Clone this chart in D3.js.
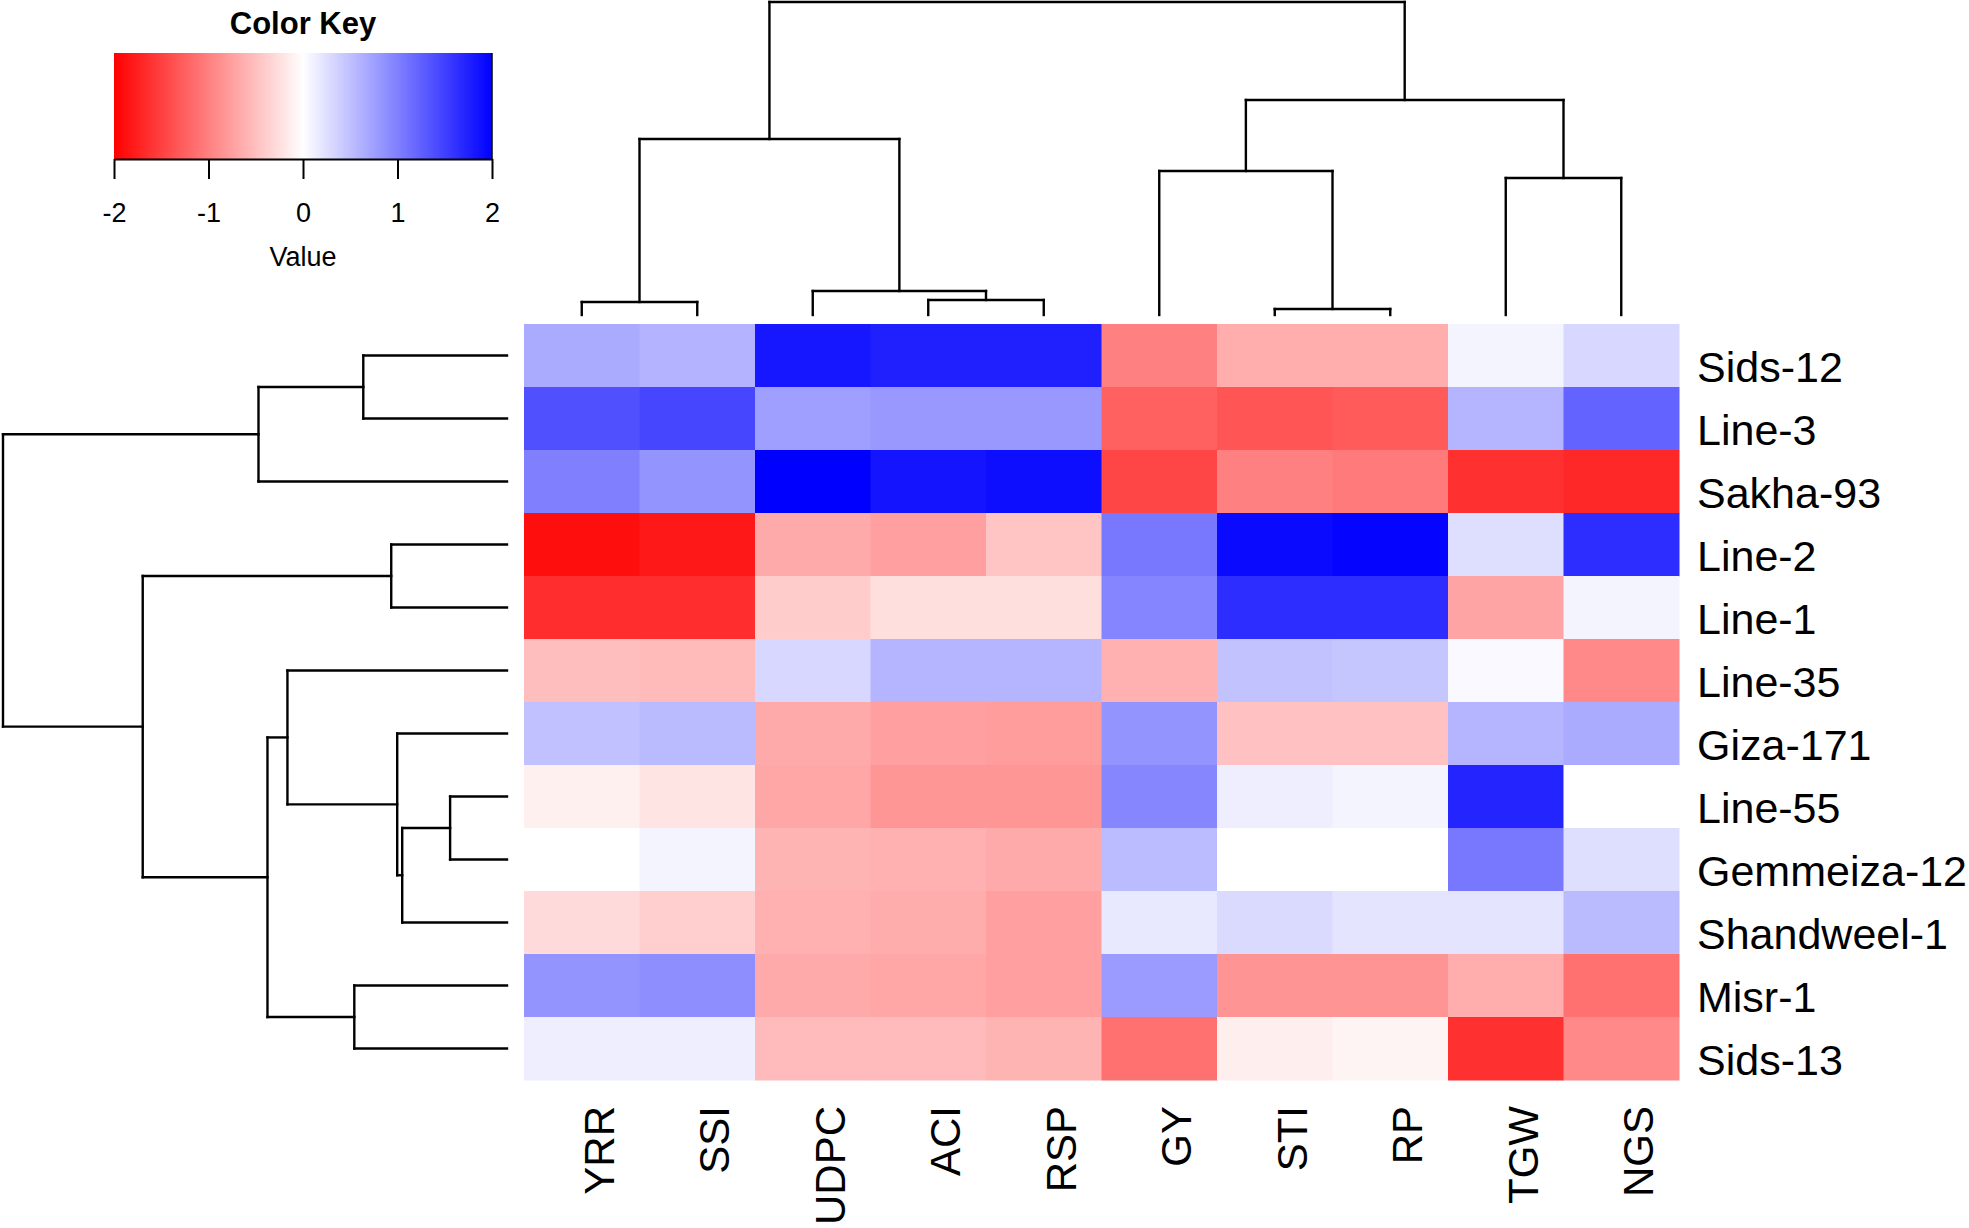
<!DOCTYPE html>
<html>
<head>
<meta charset="utf-8">
<script src="https://cdn.jsdelivr.net/npm/d3@7"></script>
<style>
  body { margin: 0; background: #fff; }
  svg { display: block; font-family: Arial, "Liberation Sans", sans-serif; }
</style>
</head>
<body>
<svg id="chart" width="1969" height="1228"></svg>
<script>
// traits (columns) and genotypes (rows), in dendrogram order
const traits = [ 'YRR', 'SSI', 'UDPC', 'ACI', 'RSP', 'GY', 'STI', 'RP', 'TGW', 'NGS' ];
const genotypes = [ 'Sids-12', 'Line-3', 'Sakha-93', 'Line-2', 'Line-1', 'Line-35',
    'Giza-171', 'Line-55', 'Gemmeiza-12', 'Shandweel-1', 'Misr-1', 'Sids-13' ];

// scaled values, one array per genotype, same order as traits
const sids12      = [ 0.67, 0.60, 1.83, 1.75, 1.75, -1.00, -0.64, -0.64, 0.09, 0.31 ];
const line3       = [ 1.37, 1.45, 0.75, 0.81, 0.81, -1.25, -1.33, -1.29, 0.59, 1.22 ];
const sakha93     = [ 1.00, 0.84, 2.00, 1.84, 1.89, -1.45, -1.00, -1.04, -1.62, -1.69 ];
const line2       = [ -1.89, -1.81, -0.67, -0.75, -0.46, 1.06, 1.92, 1.96, 0.26, 1.65 ];
const line1       = [ -1.65, -1.65, -0.40, -0.26, -0.26, 0.96, 1.65, 1.65, -0.71, 0.09 ];
const line35      = [ -0.51, -0.54, 0.31, 0.59, 0.59, -0.62, 0.48, 0.45, 0.05, -0.93 ];
const giza171     = [ 0.49, 0.54, -0.67, -0.75, -0.78, 0.84, -0.49, -0.49, 0.59, 0.67 ];
const line55      = [ -0.12, -0.21, -0.70, -0.82, -0.82, 0.95, 0.13, 0.09, 1.72, 0.00 ];
const gemmeiza12  = [ 0.00, 0.09, -0.59, -0.62, -0.67, 0.53, 0.00, 0.00, 1.06, 0.26 ];
const shandweel1  = [ -0.29, -0.38, -0.62, -0.65, -0.75, 0.18, 0.29, 0.21, 0.21, 0.54 ];
const misr1       = [ 0.84, 0.89, -0.67, -0.70, -0.75, 0.79, -0.84, -0.84, -0.64, -1.12 ];
const sids13      = [ 0.13, 0.13, -0.53, -0.53, -0.59, -1.12, -0.13, -0.09, -1.62, -0.93 ];
const values = [ sids12, line3, sakha93, line2, line1, line35, giza171, line55,
    gemmeiza12, shandweel1, misr1, sids13 ];

// hclust style merges: negative = leaf (1-based), positive = earlier merge
const colMerge  = [ [ -7, -8 ], [ -1, -2 ], [ -4, -5 ], [ -3, 3 ], [ -9, -10 ], [ -6, 1 ], [ 2, 4 ], [ 6, 5 ], [ 7, 8 ] ];
const colHeight = [ 6, 13, 15, 24, 137, 144, 176, 215, 313 ];
const rowMerge  = [ [ -8, -9 ], [ 1, -10 ], [ -7, 2 ], [ -4, -5 ], [ -1, -2 ], [ -11, -12 ], [ -6, 3 ], [ 7, 6 ], [ 5, -3 ], [ 4, 8 ], [ 9, 10 ] ];
const rowHeight = [ 57, 105, 110, 116, 144, 153, 220, 240, 249, 365, 505 ];

const keyTicks = [ -2, -1, 0, 1, 2 ];

const svg = d3.select( '#chart' );

const x = d3.scaleBand().domain( traits ).range( [ 524, 1679 ] );
const y = d3.scaleBand().domain( genotypes ).range( [ 324, 1080 ] );
const color = d3.scaleLinear().domain( [ -2, 0, 2 ] ).range( [ '#ff0000', '#ffffff', '#0000ff' ] ).clamp( true );

// heatmap cells
const cells = [];
genotypes.forEach( ( g, i ) => traits.forEach( ( t, j ) => cells.push( { g, t, v: values[ i ][ j ] } ) ) );

svg.append( 'g' ).selectAll( 'rect' )
    .data( cells )
    .enter().append( 'rect' )
    .attr( 'x', d => x( d.t ) )
    .attr( 'y', d => y( d.g ) )
    .attr( 'width', x.bandwidth() + 0.5 )
    .attr( 'height', y.bandwidth() + 0.5 )
    .attr( 'fill', d => color( d.v ) );

// row labels
svg.append( 'g' ).selectAll( 'text' )
    .data( genotypes )
    .enter().append( 'text' )
    .attr( 'x', 1697 )
    .attr( 'y', d => y( d ) + y.bandwidth() / 2 + 26 )
    .attr( 'font-size', 43 )
    .attr( 'fill', '#000' )
    .text( d => d );

// column labels, rotated
svg.append( 'g' ).selectAll( 'text' )
    .data( traits )
    .enter().append( 'text' )
    .attr( 'transform', d => 'translate(' + ( x( d ) + x.bandwidth() / 2 + 32 ) + ',1106) rotate(-90)' )
    .attr( 'text-anchor', 'end' )
    .attr( 'font-size', 42 )
    .attr( 'fill', '#000' )
    .text( d => d );

// dendrogram helper: returns list of segments
const buildDendro = ( merge, heights, leafPos ) => {
    const nodes = [];
    const get = k => k < 0 ? { pos: leafPos[ -k - 1 ], h: 0 } : nodes[ k - 1 ];
    const segs = [];
    merge.forEach( ( m, i ) => {
        const a = get( m[ 0 ] ), b = get( m[ 1 ] ), h = heights[ i ];
        segs.push( [ a.pos, a.h, a.pos, h ] );
        segs.push( [ a.pos, h, b.pos, h ] );
        segs.push( [ b.pos, h, b.pos, b.h ] );
        nodes.push( { pos: ( a.pos + b.pos ) / 2, h } );
    } );
    return segs;
};

// column dendrogram (top)
const colH = d3.scaleLinear().domain( [ 0, d3.max( colHeight ) ] ).range( [ 315, 2 ] );
const colSegs = buildDendro( colMerge, colHeight, traits.map( t => x( t ) + x.bandwidth() / 2 ) );
svg.append( 'g' ).selectAll( 'line' )
    .data( colSegs )
    .enter().append( 'line' )
    .attr( 'x1', d => d[ 0 ] ).attr( 'y1', d => colH( d[ 1 ] ) )
    .attr( 'x2', d => d[ 2 ] ).attr( 'y2', d => colH( d[ 3 ] ) )
    .attr( 'stroke', '#000' ).attr( 'stroke-width', 2.4 ).attr( 'stroke-linecap', 'square' );

// row dendrogram (left)
const rowH = d3.scaleLinear().domain( [ 0, d3.max( rowHeight ) ] ).range( [ 507, 3 ] );
const rowSegs = buildDendro( rowMerge, rowHeight, genotypes.map( g => y( g ) + y.bandwidth() / 2 ) );
svg.append( 'g' ).selectAll( 'line' )
    .data( rowSegs )
    .enter().append( 'line' )
    .attr( 'x1', d => rowH( d[ 1 ] ) ).attr( 'y1', d => d[ 0 ] )
    .attr( 'x2', d => rowH( d[ 3 ] ) ).attr( 'y2', d => d[ 2 ] )
    .attr( 'stroke', '#000' ).attr( 'stroke-width', 2.4 ).attr( 'stroke-linecap', 'square' );

// color key
const keyX = d3.scaleLinear().domain( [ -2, 2 ] ).range( [ 114, 492 ] );
const grad = svg.append( 'defs' ).append( 'linearGradient' ).attr( 'id', 'keygrad' );
grad.selectAll( 'stop' )
    .data( keyTicks )
    .enter().append( 'stop' )
    .attr( 'offset', d => ( ( d + 2 ) / 4 * 100 ) + '%' )
    .attr( 'stop-color', d => color( d ) );

svg.append( 'rect' )
    .attr( 'x', keyX( -2 ) ).attr( 'y', 53 )
    .attr( 'width', keyX( 2 ) - keyX( -2 ) ).attr( 'height', 106 )
    .attr( 'fill', 'url(#keygrad)' );

svg.append( 'line' )
    .attr( 'x1', keyX( 2 ) ).attr( 'x2', keyX( 2 ) )
    .attr( 'y1', 53 ).attr( 'y2', 159 )
    .attr( 'stroke', '#000' ).attr( 'stroke-width', 1.5 );

const keyAxis = svg.append( 'g' )
    .attr( 'transform', 'translate(0,159)' )
    .call( d3.axisBottom( keyX ).tickValues( keyTicks ).tickSize( 20 ).tickSizeOuter( 0 ).tickPadding( 24 ).tickFormat( d3.format( 'd' ) ) );
keyAxis.select( '.domain' ).attr( 'stroke', '#000' ).attr( 'stroke-width', 2 );
keyAxis.selectAll( '.tick line' ).attr( 'stroke', '#000' ).attr( 'stroke-width', 2 );
keyAxis.selectAll( '.tick text' )
    .attr( 'font-size', 27 )
    .attr( 'font-family', 'Arial, "Liberation Sans", sans-serif' )
    .attr( 'fill', '#000' )
    .text( d => d < 0 ? '-' + Math.abs( d ) : d );

svg.append( 'text' )
    .attr( 'x', 303 ).attr( 'y', 266 )
    .attr( 'text-anchor', 'middle' )
    .attr( 'font-size', 27 )
    .text( 'Value' );

svg.append( 'text' )
    .attr( 'x', 303 ).attr( 'y', 34 )
    .attr( 'text-anchor', 'middle' )
    .attr( 'font-size', 31 )
    .attr( 'font-weight', 'bold' )
    .text( 'Color Key' );
</script>
</body>
</html>
